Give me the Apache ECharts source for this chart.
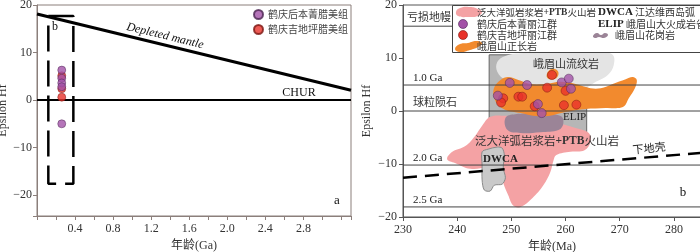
<!DOCTYPE html>
<html><head><meta charset="utf-8">
<script src="https://cdn.jsdelivr.net/npm/echarts@6/dist/echarts.min.js"></script>
<style>html,body{margin:0;padding:0;background:#fff}#c{width:700px;height:252px}</style>
</head><body><div id="c"></div>
<script>
// ---------- Panel a data ----------
const aPurpleAge = [0.26, 0.26, 0.26, 0.26, 0.26];
const aPurpleHf  = [6.3, 4.6, 3.6, 2.8, -5.0];
const aRedAge    = [0.26, 0.26, 0.26];
const aRedHf     = [5.1, 2.4, 0.6];
const aDepletedMantle = [[0, 18.1], [3.3, 2.05]];
const aChur = [[0, 0], [3.3, 0]];
const aZoomBox = [[0.119, 17.7], [0.382, 17.7], [0.382, -17.6], [0.119, -17.6], [0.119, 17.7]];
const aXTickLabels = ['0.4', '0.8', '1.2', '1.6', '2.0', '2.4', '2.8'];
const aYTickLabels = [-20, -10, 0, 10, 20];

// ---------- Panel b data ----------
const bPurpleAge = [247.5, 249.7, 252.9, 254.9, 255.6, 259.3, 260.6, 261.0];
const bPurpleHf  = [2.9, 5.3, 4.9, 1.3, -0.4, 5.4, 6.1, 4.2];
const bRedAge = [248.5, 248.1, 251.3, 252.0, 254.3, 256.6, 257.5, 260.0, 259.7, 262.0];
const bRedHf  = [2.4, 1.6, 2.7, 2.7, 0.9, 4.4, 6.8, 3.8, 1.1, 1.2];
const bRefLineNames = ['亏损地幔', '1.0 Ga', '球粒陨石', '2.0 Ga', '2.5 Ga'];
const bRefLineHf    = [16.0, 4.9, 0, -10.2, -18.1];
const bLowerCrust = [[230, -12.6], [285, -7.9]];
const bElip = [[245.9, 10.6], [263.9, 10.6], [263.9, -4.2], [245.9, -4.2]];
const bRhyolite = [[247.4, 9.25], [248.9, 10.4], [251.7, 10.9], [256.3, 11.1], [261.9, 11.1], [266.5, 11.1], [268.7, 10.6], [268.9, 8.7], [267.8, 6.8], [265.6, 5.5], [263.7, 4.3], [260.9, 3.0], [257.2, 3.6], [252.6, 4.7], [248.9, 5.9], [247.4, 7.4]];
const bSyenite = [[246.7, 3.0], [246.85, 4.5], [248.0, 5.85], [249.4, 6.4], [251.3, 5.85], [253.5, 5.1], [256.3, 5.1], [259.1, 5.5], [261.85, 5.1], [264.6, 4.3], [266.5, 4.3], [268.7, 5.1], [271.1, 6.0], [272.4, 6.4], [273.15, 5.85], [272.8, 4.3], [271.7, 2.45], [270.6, 0.75], [267.4, 0.57], [263.7, 0.38], [260.0, -0.2], [256.85, -0.94], [254.4, -0.94], [251.7, -0.38], [248.9, 0.2], [247.4, 1.3]];
const bSyeniteSpot = [[256.5, 6.6], [257.0, 7.7], [258.15, 7.9], [258.7, 7.2], [258.3, 6.2], [257.0, 6.0]];
const bPanOcean = [[246.1, -1.1], [248.9, -0.9], [251.7, -1.3], [255.4, -2.1], [259.1, -2.45], [261.85, -3.2], [264.3, -4.15], [264.6, -5.85], [263.5, -7.4], [260.9, -7.7], [258.3, -8.3], [257.8, -9.25], [257.2, -11.5], [255.9, -14.0], [253.9, -16.4], [251.7, -18.1], [250.4, -17.9], [249.4, -15.85], [248.5, -13.6], [248.0, -11.5], [246.1, -10.75], [242.4, -10.9], [239.6, -9.8], [238.15, -9.1], [239.1, -7.7], [241.5, -6.6], [243.3, -4.7], [244.6, -2.8]];
const bGranite = [[248.9, -1.3], [250.7, -0.6], [255.4, -0.6], [259.1, -0.94], [259.6, -2.3], [258.7, -3.6], [255.4, -4.0], [251.7, -4.15], [249.3, -3.6]];
const bDwca = [[244.6, -7.7], [245.7, -7.2], [247.4, -6.8], [248.3, -7.0], [248.7, -8.3], [248.5, -10.75], [248.9, -12.6], [248.3, -13.8], [246.85, -14.0], [246.1, -15.1], [245.0, -14.9], [244.6, -13.0], [244.6, -10.2]];
const bXTicks = [230, 240, 250, 260, 270, 280];
const bYTicks = [-20, -10, 0, 10, 20];

// ---------- styles ----------
const FS = "'Liberation Serif','Noto Sans CJK SC',serif";
const CJK = "'Noto Sans CJK SC','Liberation Serif',sans-serif";
const PURPLE = '#a352a8', PURPLE_B = '#4a2350';
const RED = '#e8322a', RED_B = '#7a1510';
const fmt = v => (v < 0 ? '\u2212' + Math.abs(v) : String(v));
const zip = (a, b) => a.map((x, i) => [x, b[i]]);

function poly(pts, fill, z, smooth, stroke) {
  return {
    type: 'custom', xAxisIndex: 1, yAxisIndex: 1, z: z, silent: true,
    data: [pts[0]],
    renderItem: (params, api) => ({
      type: 'polygon',
      shape: { points: pts.map(p => api.coord(p)), smooth: smooth },
      style: { fill: fill, stroke: stroke || null, lineWidth: stroke ? 1 : 0 }
    })
  };
}

const series = [];
// panel a
series.push({ type: 'line', xAxisIndex: 0, yAxisIndex: 0, data: aDepletedMantle, symbol: 'none', lineStyle: { color: '#000', width: 3 }, z: 3, silent: true });
series.push({ type: 'line', xAxisIndex: 0, yAxisIndex: 0, data: aChur, symbol: 'none', lineStyle: { color: '#000', width: 2 }, z: 3, silent: true });
series.push({ type: 'line', xAxisIndex: 0, yAxisIndex: 0, data: aZoomBox, symbol: 'none', lineStyle: { color: '#000', width: 2.5, type: [26, 9] }, z: 3, silent: true });
series.push({ name: '鹤庆吉地坪腊美组', type: 'scatter', xAxisIndex: 0, yAxisIndex: 0, data: zip(aRedAge, aRedHf), symbolSize: 8, itemStyle: { color: RED, borderColor: RED_B, borderWidth: 0.6 }, z: 5 });
series.push({ name: '鹤庆后本菁腊美组', type: 'scatter', xAxisIndex: 0, yAxisIndex: 0, data: zip(aPurpleAge, aPurpleHf), symbolSize: 8, itemStyle: { color: PURPLE, borderColor: PURPLE_B, borderWidth: 0.6 }, z: 6 });

// panel b polygons
series.push(poly(bElip, '#b6b6b6', 1, 0, '#666'));
series.push(poly(bRhyolite, '#e4e4e4', 2, 0.4));
series.push(poly(bPanOcean, '#f4a2a4', 2, 0.4));
series.push(poly(bGranite, '#9b8497', 2, 0.4));
series.push(poly(bDwca, '#c9c9c9', 2, 0.3, '#8a8a8a'));
series.push(poly(bSyenite, '#f28a2e', 2, 0.35));
series.push(poly(bSyeniteSpot, '#f28a2e', 2, 0.4));
// panel b ref lines
bRefLineHf.forEach((v, i) => {
  series.push({ name: bRefLineNames[i], type: 'line', xAxisIndex: 1, yAxisIndex: 1, data: [[230, v], [285, v]], symbol: 'none', lineStyle: { color: '#444', width: 1 }, z: 3, silent: true });
});
series.push({ type: 'line', xAxisIndex: 1, yAxisIndex: 1, data: bLowerCrust, symbol: 'none', lineStyle: { color: '#000', width: 2.5, type: [14, 8] }, z: 3, silent: true });
series.push({ name: '鹤庆吉地坪丽江群', type: 'scatter', xAxisIndex: 1, yAxisIndex: 1, data: zip(bRedAge, bRedHf), symbolSize: 9, itemStyle: { color: RED, borderColor: RED_B, borderWidth: 0.6 }, z: 5 });
series.push({ name: '鹤庆后本菁丽江群', type: 'scatter', xAxisIndex: 1, yAxisIndex: 1, data: zip(bPurpleAge, bPurpleHf), symbolSize: 9, itemStyle: { color: PURPLE, borderColor: PURPLE_B, borderWidth: 0.6 }, z: 6 });

function txt(x, y, text, font, opts) {
  opts = opts || {};
  return { type: 'text', x: x, y: y, rotation: opts.rot || 0, z: opts.z || 50, silent: true,
    style: { text: text, font: font, fill: opts.fill || '#222', align: opts.align || 'left', verticalAlign: 'middle', rich: opts.rich } };
}
const boldRich = { b: { fontFamily: 'Liberation Serif', fontWeight: 'bold', fontSize: 11, fill: '#222' },
                   p: { fontFamily: 'Liberation Serif', fontWeight: 'bold', fontSize: 9.5, fill: '#333' } };

const graphics = [
  // panel a annotations
  txt(165, 36, 'Depleted mantle', "italic 12px 'Liberation Serif'", { align: 'center', rot: -0.239, fill: '#111' }),
  txt(299, 93, 'CHUR', "12px 'Liberation Serif'", { align: 'center', fill: '#111' }),
  txt(55, 27, 'b', "12px 'Liberation Serif'", { align: 'center', fill: '#111' }),
  txt(337, 201, 'a', "13px 'Liberation Serif'", { align: 'center', fill: '#111' }),
  // panel b annotations
  txt(407, 17, bRefLineNames[0], "11px 'Noto Sans CJK SC'", { fill: '#333' }),
  txt(413, 78, bRefLineNames[1], "11px 'Liberation Serif'", { fill: '#222' }),
  txt(413, 102, bRefLineNames[2], "11px 'Noto Sans CJK SC'", { fill: '#333' }),
  txt(413, 158, bRefLineNames[3], "11px 'Liberation Serif'", { fill: '#222' }),
  txt(413, 200, bRefLineNames[4], "11px 'Liberation Serif'", { fill: '#222' }),
  txt(566, 64, '峨眉山流纹岩', "11px 'Noto Sans CJK SC'", { align: 'center', fill: '#333' }),
  txt(563, 117, 'ELIP', "11px 'Liberation Serif'", { fill: '#222' }),
  txt(475, 141, '泛大洋弧岩浆岩{p|+PTB}火山岩', "11.5px 'Noto Sans CJK SC'", { fill: '#333', rich: { p: { fontFamily: 'Liberation Serif', fontWeight: 'bold', fontSize: 11.5, fill: '#333' } } }),
  txt(483, 159, 'DWCA', "bold 11px 'Liberation Serif'", { fill: '#222' }),
  txt(649, 148, '下地壳', "11px 'Noto Sans CJK SC'", { align: 'center', rot: 0.1, fill: '#222' }),
  txt(683, 193, 'b', "13px 'Liberation Serif'", { align: 'center', fill: '#111' }),
  // panel b legend box
  { type: 'rect', z: 60, silent: true, shape: { x: 452.5, y: 5.5, width: 260, height: 47 }, style: { fill: '#fff', stroke: '#444', lineWidth: 1 } },
  { type: 'polygon', z: 61, silent: true, shape: { points: [[456, 12], [460, 8], [470, 7], [478, 9], [482, 12], [478, 16], [468, 17], [458, 16]], smooth: 0.5 }, style: { fill: '#f4a2a4' } },
  { type: 'circle', z: 61, silent: true, shape: { cx: 463, cy: 24, r: 4.5 }, style: { fill: PURPLE, stroke: PURPLE_B, lineWidth: 0.6 } },
  { type: 'circle', z: 61, silent: true, shape: { cx: 463, cy: 35, r: 4.5 }, style: { fill: RED, stroke: RED_B, lineWidth: 0.6 } },
  { type: 'polygon', z: 61, silent: true, shape: { points: [[455, 49], [460, 44], [468, 43], [476, 41], [482, 43], [478, 47], [470, 50], [460, 52]], smooth: 0.5 }, style: { fill: '#f28a2e' } },
  { type: 'polygon', z: 61, silent: true, shape: { points: [[593, 36], [597, 33], [601, 35], [605, 33], [608, 35], [604, 38], [599, 37], [595, 38]], smooth: 0.5 }, style: { fill: '#9b8497' } },
  txt(477, 12.5, '泛大洋弧岩浆岩{p|+PTB}火山岩', "9.5px 'Noto Sans CJK SC'", { z: 62, fill: '#333', rich: boldRich }),
  txt(477, 24, '鹤庆后本菁丽江群', "10px 'Noto Sans CJK SC'", { z: 62, fill: '#333' }),
  txt(477, 35, '鹤庆吉地坪丽江群', "10px 'Noto Sans CJK SC'", { z: 62, fill: '#333' }),
  txt(477, 46.5, '峨眉山正长岩', "10px 'Noto Sans CJK SC'", { z: 62, fill: '#333' }),
  txt(598, 12.5, '{b|DWCA} 江达维西岛弧', "10px 'Noto Sans CJK SC'", { z: 62, fill: '#333', rich: boldRich }),
  txt(598, 24, '{b|ELIP} 峨眉山大火成岩省', "10px 'Noto Sans CJK SC'", { z: 62, fill: '#333', rich: boldRich }),
  txt(615, 35, '峨眉山花岗岩', "10px 'Noto Sans CJK SC'", { z: 62, fill: '#333' })
];

const axisFont = { fontFamily: FS, fontSize: 12, color: '#333' };
const option = {
  animation: false,
  backgroundColor: '#fff',
  grid: [
    { left: 37, top: 5, right: 349, bottom: 36, show: true, borderColor: '#8b7f7b', borderWidth: 1, outerBoundsMode: 'none' },
    { left: 403, top: 5, right: -1, bottom: 35, show: true, borderColor: '#555', borderWidth: 1, outerBoundsMode: 'none' }
  ],
  legend: {
    data: ['鹤庆后本菁腊美组', '鹤庆吉地坪腊美组'], orient: 'vertical', left: 253, top: 9, padding: 0,
    itemWidth: 9, itemHeight: 9, itemGap: 4, icon: 'circle',
    textStyle: { fontFamily: CJK, fontSize: 10, color: '#444' }
  },
  xAxis: [
    { gridIndex: 0, type: 'value', min: 0, max: 3.3, interval: 0.2,
      axisLine: { onZero: false, lineStyle: { color: '#8b7f7b' } },
      axisTick: { length: 4, lineStyle: { color: '#8b7f7b' } },
      splitLine: { show: false },
      axisLabel: Object.assign({ margin: 7, formatter: v => { const s = (Math.round(v * 10) / 10).toFixed(1); return aXTickLabels.includes(s) && Math.abs(v - parseFloat(s)) < 1e-6 ? s : ''; } }, axisFont),
      name: '年龄(Ga)', nameLocation: 'middle', nameGap: 21, nameTextStyle: { fontFamily: FS, fontSize: 12, color: '#333' } },
    { gridIndex: 1, type: 'value', min: 230, max: 285, interval: 10,
      axisLine: { onZero: false, lineStyle: { color: '#555' } },
      axisTick: { length: 4, lineStyle: { color: '#555' } },
      splitLine: { show: false },
      axisLabel: Object.assign({ margin: 7, formatter: v => (bXTicks.includes(v) ? String(v) : '') }, axisFont),
      name: '年龄(Ma)', nameLocation: 'middle', nameGap: 20, nameTextStyle: { fontFamily: FS, fontSize: 12, color: '#333' } }
  ],
  yAxis: [
    { gridIndex: 0, type: 'value', min: -24.4, max: 20, splitNumber: 5,
      axisLine: { onZero: false, lineStyle: { color: '#8b7f7b' } },
      axisTick: { length: 4, lineStyle: { color: '#8b7f7b' } },
      splitLine: { show: false },
      axisLabel: Object.assign({ margin: 5, formatter: v => (aYTickLabels.includes(v) ? fmt(v) : '') }, axisFont),
      name: 'Epsilon Hf', nameLocation: 'middle', nameGap: 26, nameTextStyle: { fontFamily: FS, fontSize: 12, color: '#333' } },
    { gridIndex: 1, type: 'value', min: -20, max: 20, interval: 10,
      axisLine: { onZero: false, lineStyle: { color: '#555' } },
      axisTick: { length: 4, lineStyle: { color: '#555' } },
      splitLine: { show: false },
      axisLabel: Object.assign({ margin: 6, formatter: v => (bYTicks.includes(v) ? fmt(v) : '') }, axisFont),
      name: 'Epsilon Hf', nameLocation: 'middle', nameGap: 30, nameTextStyle: { fontFamily: FS, fontSize: 12, color: '#333' } }
  ],
  series: series,
  graphic: graphics
};
const chart = echarts.init(document.getElementById('c'), null, { renderer: 'canvas' });
chart.setOption(option);
</script></body></html>
